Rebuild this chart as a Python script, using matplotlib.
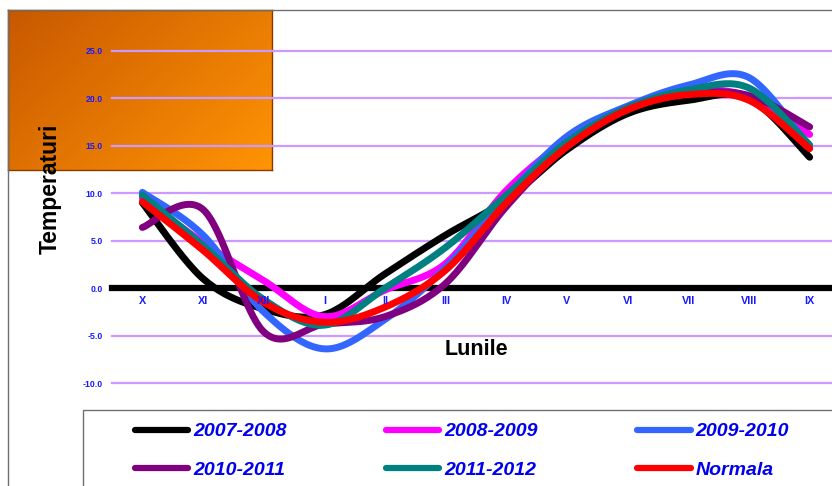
import numpy as np
import matplotlib
matplotlib.use("Agg")
import matplotlib.pyplot as plt
from matplotlib.patches import Rectangle
from matplotlib.lines import Line2D

plt.rcParams['font.family'] = ['Liberation Sans', 'DejaVu Sans']

# Monthly mean temperatures, October -> September
months = ["X", "XI", "XII", "I", "II", "III", "IV", "V", "VI", "VII", "VIII", "IX"]
t_2007_2008 = [9.0, 1.0, -2.2, -2.8, 1.5, 5.6, 9.3, 14.6, 18.4, 19.8, 20.0, 13.8]
t_2008_2009 = [9.5, 4.8, 0.8, -3.0, -0.2, 2.6, 10.3, 15.6, 19.0, 20.8, 20.2, 16.2]
t_2009_2010 = [10.1, 5.6, -2.5, -6.4, -3.3, 2.2, 9.6, 16.0, 19.2, 21.4, 22.2, 14.8]
t_2010_2011 = [6.4, 8.3, -4.6, -3.8, -3.0, 0.5, 8.6, 15.0, 19.0, 20.5, 20.3, 17.0]
t_2011_2012 = [9.8, 4.5, -1.2, -3.9, 0.0, 4.3, 9.8, 15.4, 19.0, 20.9, 21.1, 15.1]
t_normala = [9.1, 4.0, -1.5, -3.6, -2.0, 1.9, 9.0, 14.9, 18.8, 20.4, 19.8, 14.7]

series_labels = ["2007-2008", "2008-2009", "2009-2010", "2010-2011", "2011-2012", "Normala"]
series_values = [t_2007_2008, t_2008_2009, t_2009_2010, t_2010_2011, t_2011_2012, t_normala]
series_colors = ["#000000", "#FF00FF", "#3366FF", "#800080", "#008080", "#FF0000"]

y_ticks = [-10, -5, 0, 5, 10, 15, 20, 25]

W, H = 832, 486
fig = plt.figure(figsize=(W / 100, H / 100), dpi=100)
fig.patch.set_facecolor("white")


def fx(px):
    return px / W


def fy(py):
    return 1 - py / H


def smooth(vals, n=24):
    """Bezier smoothing through the points (tangent = neighbour difference / 6)."""
    pts = np.column_stack([np.arange(len(vals), dtype=float), np.asarray(vals, float)])
    out = []
    t = np.linspace(0, 1, n)[:, None]
    for i in range(len(pts) - 1):
        p0 = pts[i - 1] if i > 0 else pts[i]
        p1, p2 = pts[i], pts[i + 1]
        p3 = pts[i + 2] if i + 2 < len(pts) else pts[i + 1]
        c1 = p1 + (p2 - p0) / 6
        c2 = p2 - (p3 - p1) / 6
        seg = (1 - t) ** 3 * p1 + 3 * (1 - t) ** 2 * t * c1 + 3 * (1 - t) * t ** 2 * c2 + t ** 3 * p2
        out.append(seg if i == 0 else seg[1:])
    return np.vstack(out)


# Orange title panel with a diagonal gradient
bx0, by0, bx1, by1 = 8, 10, 272, 170
box_ax = fig.add_axes([fx(bx0), fy(by1), fx(bx1 - bx0), (by1 - by0) / H], zorder=0)
gx, gy = np.meshgrid(np.linspace(0, 1, 200), np.linspace(0, 1, 120))
g = np.clip(0.6 * gx + 0.4 * gy, 0, 1)
c0 = np.array([200, 88, 0]) / 255
c1 = np.array([255, 148, 5]) / 255
img = c0[None, None, :] * (1 - g[..., None]) + c1[None, None, :] * g[..., None]
box_ax.imshow(img, aspect="auto", extent=[0, 1, 1, 0])
box_ax.set_xlim(0, 1)
box_ax.set_ylim(1, 0)
box_ax.set_xticks([])
box_ax.set_yticks([])
for s in box_ax.spines.values():
    s.set_color("#8A3A00")
    s.set_linewidth(1.0)

# Chart area border (left and top)
fig.add_artist(Line2D([fx(8), fx(8)], [fy(10), 0], color="#707070", lw=1.0, zorder=1))
fig.add_artist(Line2D([fx(8), 1], [fy(10), fy(10)], color="#707070", lw=1.0, zorder=1))

# Plot area
ax_l, ax_r = 112, 840
ax_t, ax_b = 51, 383
ax = fig.add_axes([fx(ax_l), fy(ax_b), fx(ax_r - ax_l), (ax_b - ax_t) / H], zorder=2)
ax.set_facecolor("none")
ax.set_xlim(-0.5, len(months) - 0.5)
ax.set_ylim(-10, 25)

for v in y_ticks:
    if v != 0:
        ax.axhline(v, color="#CC99FF", lw=1.6, zorder=1, clip_on=False)

for s in ["top", "right", "left"]:
    ax.spines[s].set_visible(False)
ax.spines["bottom"].set_position(("data", 0))
ax.spines["bottom"].set_linewidth(4.5)
ax.spines["bottom"].set_color("black")
ax.spines["bottom"].set_zorder(2)

ax.set_yticks(y_ticks)
ax.set_yticklabels([f"{v:.1f}" for v in y_ticks])
ax.tick_params(axis="y", length=0, pad=6.5, labelsize=6.3, labelcolor="#1A1AFF")
ax.set_xticks(range(len(months)))
ax.set_xticklabels(months)
ax.tick_params(axis="x", length=0, pad=6, labelsize=7.8, labelcolor="#1A1AFF")
for lab in ax.get_xticklabels() + ax.get_yticklabels():
    lab.set_fontweight("bold")
# month labels sit on top of the curves
ax.xaxis.set_zorder(5)

handles = []
for vals, col, lab in zip(series_values, series_colors, series_labels):
    curve = smooth(vals)
    ax.plot(curve[:, 0], curve[:, 1], color=col, lw=5.0,
            solid_capstyle="round", zorder=3, clip_on=False, label=lab)
    handles.append(Line2D([], [], color=col, lw=4.5, solid_capstyle="round"))

fig.text(fx(476), fy(349), "Lunile", ha="center", va="center",
         fontsize=15.5, fontweight="bold", color="black", zorder=5)
fig.text(fx(50), fy(189), "Temperaturi", ha="center", va="center", rotation=90,
         fontsize=16.5, fontweight="bold", color="black", zorder=5)

# Legend box
fig.add_artist(Rectangle((fx(83), -0.05), 1.0, fy(410) + 0.05, transform=fig.transFigure,
                         facecolor="white", edgecolor="#707070", lw=1.0, zorder=1))
# row-wise ordering for a 3-column legend (matplotlib fills column by column)
order = [0, 3, 1, 4, 2, 5]
leg = fig.legend([handles[i] for i in order], [series_labels[i] for i in order],
                 ncol=3, loc="upper left", bbox_to_anchor=(fx(125), fy(413)),
                 frameon=False, handlelength=2.75, handletextpad=0.26,
                 columnspacing=5.1, labelspacing=1.08, borderpad=0,
                 prop={"family": "Liberation Sans", "weight": "bold",
                       "style": "italic", "size": 14})
leg.set_zorder(6)
for txt in leg.get_texts():
    txt.set_color("#0000EE")

fig.savefig("out.png", dpi=100)
